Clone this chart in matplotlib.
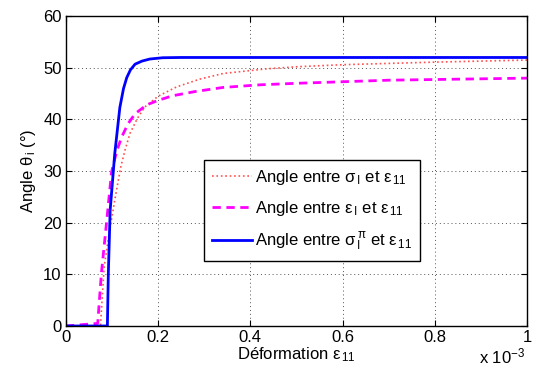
import matplotlib.pyplot as plt

plt.rcParams['font.family'] = ['Liberation Sans', 'DejaVu Sans']
plt.rcParams['mathtext.fontset'] = 'custom'
plt.rcParams['mathtext.rm'] = 'Liberation Sans'
plt.rcParams['mathtext.it'] = 'Liberation Sans'
plt.rcParams['mathtext.sf'] = 'Liberation Sans'

# deformation in units of 1e-3
x_sig = [0, 0.075, 0.083, 0.095, 0.106, 0.119, 0.129, 0.139, 0.155, 0.171, 0.2, 0.24,
         0.29, 0.341, 0.435, 0.5, 0.6, 0.8, 1.0]
y_sig = [0, 0, 11.5, 18.5, 24.4, 30.8, 34.3, 37.3, 40.2, 42.4, 44.5, 46.3,
         47.8, 48.9, 49.8, 50.2, 50.6, 51.1, 51.5]

x_eps = [0, 0.069, 0.077, 0.088, 0.099, 0.11, 0.121, 0.135, 0.150, 0.175, 0.2, 0.232,
         0.28, 0.341, 0.42, 0.5, 0.7, 1.0]
y_eps = [0, 0.5, 10.2, 19.9, 29.8, 33.8, 36.6, 39.2, 41.1, 42.8, 43.7, 44.6,
         45.4, 46.2, 46.7, 47.0, 47.6, 48.0]

x_pi = [0, 0.09, 0.092, 0.096, 0.106, 0.117, 0.125, 0.132, 0.14, 0.15, 0.165, 0.182,
        0.21, 0.25, 1.0]
y_pi = [0, 0, 10, 22.4, 33.4, 42.3, 46.0, 48.1, 49.6, 50.7, 51.3, 51.7,
        51.95, 52.0, 52.0]

fig = plt.figure(figsize=(5.4, 3.76), dpi=100)
ax = fig.add_axes([0.122, 0.133, 0.854, 0.824])

ax.plot(x_sig, y_sig, color='#ff5050', linestyle=':', linewidth=1.2,
        label=r'Angle entre $\sigma_{\,\mathrm{I}}$ et $\varepsilon_{\,11}$')
ax.plot(x_eps, y_eps, color='#ff00ff', linestyle=(0, (3, 2)), linewidth=2.0,
        label=r'Angle entre $\varepsilon_{\,\mathrm{I}}$ et $\varepsilon_{\,11}$')
ax.plot(x_pi, y_pi, color='#0000ff', linestyle='-', linewidth=2.0,
        label=r'Angle entre $\sigma_{\,\mathrm{I}}^{\,\pi}$ et $\varepsilon_{\,11}$')

ax.set_xlim(0, 1)
ax.set_ylim(0, 60)
ax.set_xticks([0, 0.2, 0.4, 0.6, 0.8, 1])
ax.set_xticklabels(['0', '0.2', '0.4', '0.6', '0.8', '1'])
ax.set_yticks(range(0, 61, 10))
ax.tick_params(direction='in', labelsize=12, length=4, top=True, right=True, pad=3)
ax.grid(True, linestyle=(0, (1, 3)), color='#555555', linewidth=0.7)
for s in ax.spines.values():
    s.set_linewidth(1.0)

ax.set_xlabel(r'Déformation $\varepsilon_{\,11}$', fontsize=12, labelpad=0)
ax.set_ylabel(r'Angle $\theta_{\,i}$ (°)', fontsize=12, labelpad=4)
fig.text(0.972, 0.025, r'x 10$^{-3}$', ha='right', va='bottom', fontsize=12)

leg = ax.legend(loc='upper left', bbox_to_anchor=(0.3, 0.535), fontsize=12,
                fancybox=False, framealpha=1, edgecolor='black',
                handlelength=2.4, handletextpad=0.2, borderpad=0.45, labelspacing=0.75,
                borderaxespad=0)
leg.get_frame().set_linewidth(1.0)

fig.savefig('out.png', dpi=100)
